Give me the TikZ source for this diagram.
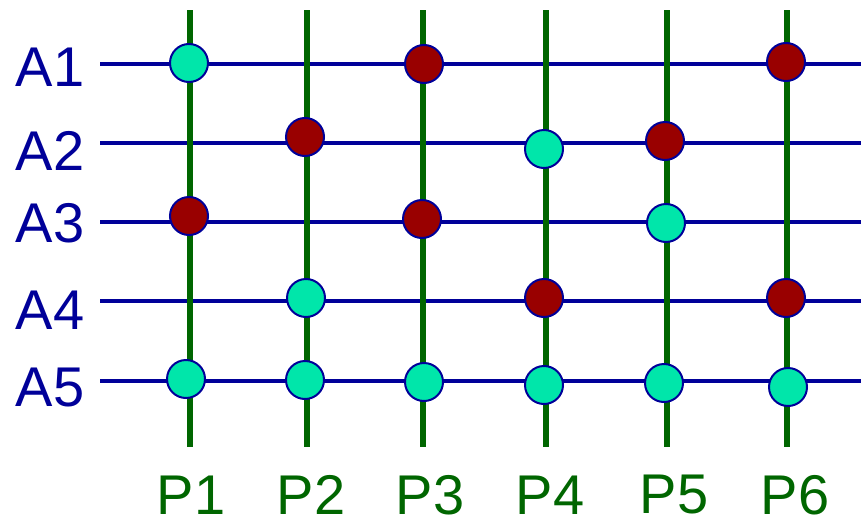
\documentclass[tikz,border=0pt]{standalone}
\usepackage{fontspec}
\setmainfont{Liberation Sans}
\usetikzlibrary{positioning}
\definecolor{rowblue}{RGB}{0,0,153}
\definecolor{colgreen}{RGB}{0,102,0}
\definecolor{dotcyan}{RGB}{0,230,170}
\definecolor{dotred}{RGB}{153,0,0}
\tikzset{
  rowline/.style={line width=4pt, color=rowblue},
  colline/.style={line width=6pt, color=colgreen},
  rowlabel/.style={font=\fontsize{56}{56}\selectfont, text=rowblue, inner sep=0pt},
  collabel/.style={font=\fontsize{56}{56}\selectfont, text=colgreen, inner sep=0pt},
  cyandot/.style={circle, draw=rowblue, fill=dotcyan, line width=2pt,
    minimum size=38pt, inner sep=0pt},
  reddot/.style={circle, draw=rowblue, fill=dotred, line width=2pt,
    minimum size=38pt, inner sep=0pt}
}

\begin{document}
\begin{tikzpicture}[x=1pt, y=-1pt]
  \useasboundingbox (0,0) rectangle (861,522);

  % rows A1..A5
  \foreach \n/\y/\ly in {1/64/67, 2/143/151, 3/222/223, 4/301/310, 5/381/388} {
    \node[rowlabel] (A\n) at (50,\ly) {A\n};
    \coordinate (r\n w) at (100,\y);
    \coordinate (r\n e) at (861,\y);
    \draw[rowline] (r\n w) -- (r\n e);
  }

  % columns P1..P6
  \foreach \n/\x/\lx in {1/190/191, 2/307/311, 3/423/430, 4/546/550, 5/667/674, 6/787/795} {
    \node[collabel] (P\n) at (\lx,495) {P\n};
    \coordinate (c\n n) at (\x,10);
    \coordinate (c\n s) at (\x,447);
    \draw[colline] (c\n n) -- (c\n s);
  }

  % dots
  \node[cyandot] (d11) at (189,63) {};
  \node[reddot]  (d13) at (424,64) {};
  \node[reddot]  (d16) at (786,62) {};
  \node[reddot]  (d22) at (305,137) {};
  \node[cyandot] (d24) at (544,149) {};
  \node[reddot]  (d25) at (665,141) {};
  \node[reddot]  (d31) at (189,216) {};
  \node[reddot]  (d33) at (422,219) {};
  \node[cyandot] (d35) at (666,223) {};
  \node[cyandot] (d42) at (306,298) {};
  \node[reddot]  (d44) at (544,298) {};
  \node[reddot]  (d46) at (786,298) {};
  \node[cyandot] (d51) at (186,379) {};
  \node[cyandot] (d52) at (305,380) {};
  \node[cyandot] (d53) at (424,382) {};
  \node[cyandot] (d54) at (544,385) {};
  \node[cyandot] (d55) at (664,383) {};
  \node[cyandot] (d56) at (788,387) {};
\end{tikzpicture}
\end{document}
